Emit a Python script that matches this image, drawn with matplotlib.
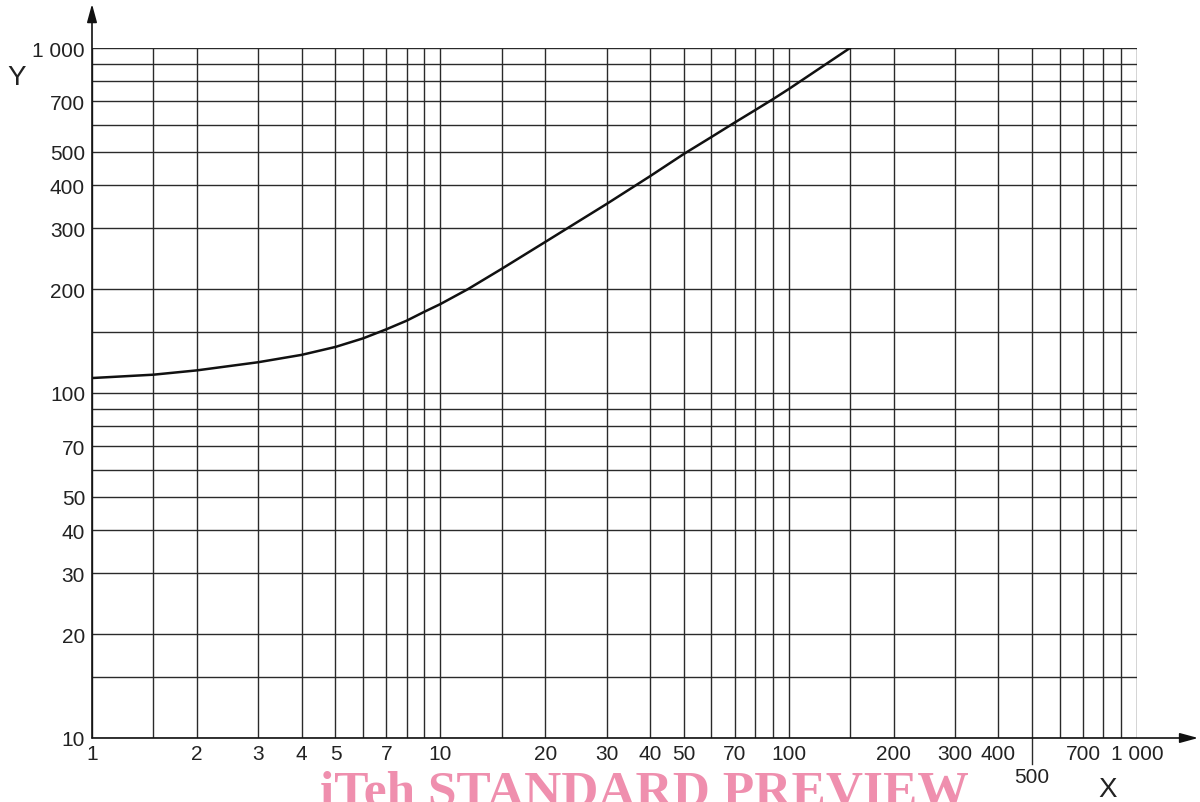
import matplotlib
matplotlib.use('Agg')
import matplotlib.pyplot as plt

# ---------------- DATA ----------------
# curve
curve_x = [1, 1.5, 2, 3, 4, 5, 6, 7, 8, 9, 10, 12, 15, 20, 25, 30, 40, 50, 60, 70, 80, 90, 100, 150]
curve_y = [110.5, 113, 116.3, 122.8, 129, 136, 144, 153, 162, 172, 181, 200, 229, 274, 315,
           353, 425, 493, 552, 608, 660, 710, 760, 1000]

# grid lines and labels
x_labeled = [1, 2, 3, 4, 5, 7, 10, 20, 30, 40, 50, 70, 100, 200, 300, 400, 700, 1000]
x_labels = ['1', '2', '3', '4', '5', '7', '10', '20', '30', '40', '50', '70', '100',
            '200', '300', '400', '700', '1 000']
x_other = [1.5, 6, 8, 9, 15, 60, 80, 90, 150, 500, 600, 800, 900]
x_lowered = 500

y_labeled = [10, 20, 30, 40, 50, 70, 100, 200, 300, 400, 500, 700, 1000]
y_labels = ['10', '20', '30', '40', '50', '70', '100', '200', '300', '400', '500', '700', '1 000']
y_other = [15, 60, 80, 90, 150, 600, 800, 900]

watermark = 'iTeh STANDARD PREVIEW'
# --------------------------------------

plt.rcParams['font.family'] = ['Liberation Sans', 'DejaVu Sans']

W, H = 1200, 803
fig = plt.figure(figsize=(W / 100, H / 100), dpi=100)
ax = fig.add_axes([92 / W, 64 / H, 1045 / W, 690 / H])
ax.set_xscale('log')
ax.set_yscale('log')
ax.set_xlim(1, 1000)
ax.set_ylim(10, 1000)

ax.set_xticks(x_labeled)
ax.set_xticklabels(x_labels)
ax.set_xticks(x_other, minor=True)
ax.set_xticklabels([], minor=True)
ax.set_yticks(y_labeled)
ax.set_yticklabels(y_labels)
ax.set_yticks(y_other, minor=True)
ax.set_yticklabels([], minor=True)

ax.tick_params(which='both', length=0, labelsize=15, colors='#222222')
ax.tick_params(axis='x', pad=4)
ax.tick_params(axis='y', pad=5)
ax.grid(which='both', color='#2a2a2a', lw=1.0)

for s in ax.spines.values():
    s.set_visible(False)

# lowered 500 label with its extended tick
ax.plot([x_lowered, x_lowered], [0, -26 / 690], color='#2a2a2a', lw=1.0,
        transform=ax.get_xaxis_transform(), clip_on=False)
ax.text(x_lowered, -29 / 690, '500', transform=ax.get_xaxis_transform(),
        ha='center', va='top', fontsize=15, color='#222222')

# curve
ax.plot(curve_x, curve_y, color='#111111', lw=1.8, zorder=3)

# axes with arrows
ax.annotate('', xy=(1.0585, 0), xytext=(0, 0), xycoords='axes fraction',
            arrowprops=dict(arrowstyle='-|>,head_length=1.1,head_width=0.3',
                            color='#111111', lw=1.2, shrinkA=0, shrinkB=0))
ax.annotate('', xy=(0, 1.0638), xytext=(0, 0), xycoords='axes fraction',
            arrowprops=dict(arrowstyle='-|>,head_length=1.1,head_width=0.3',
                            color='#111111', lw=1.2, shrinkA=0, shrinkB=0))

fig.text(17 / W, 1 - 78 / H, 'Y', fontsize=20, ha='center', va='center', color='#222222')
fig.text(1108 / W, 1 - 790 / H, 'X', fontsize=20, ha='center', va='center', color='#222222')

fig.text(644 / W, 1 - 771 / H, watermark, family='Liberation Serif', weight='bold',
         fontsize=37, color='#ef8fae', ha='center', va='top')

fig.savefig('out.png', dpi=100)
